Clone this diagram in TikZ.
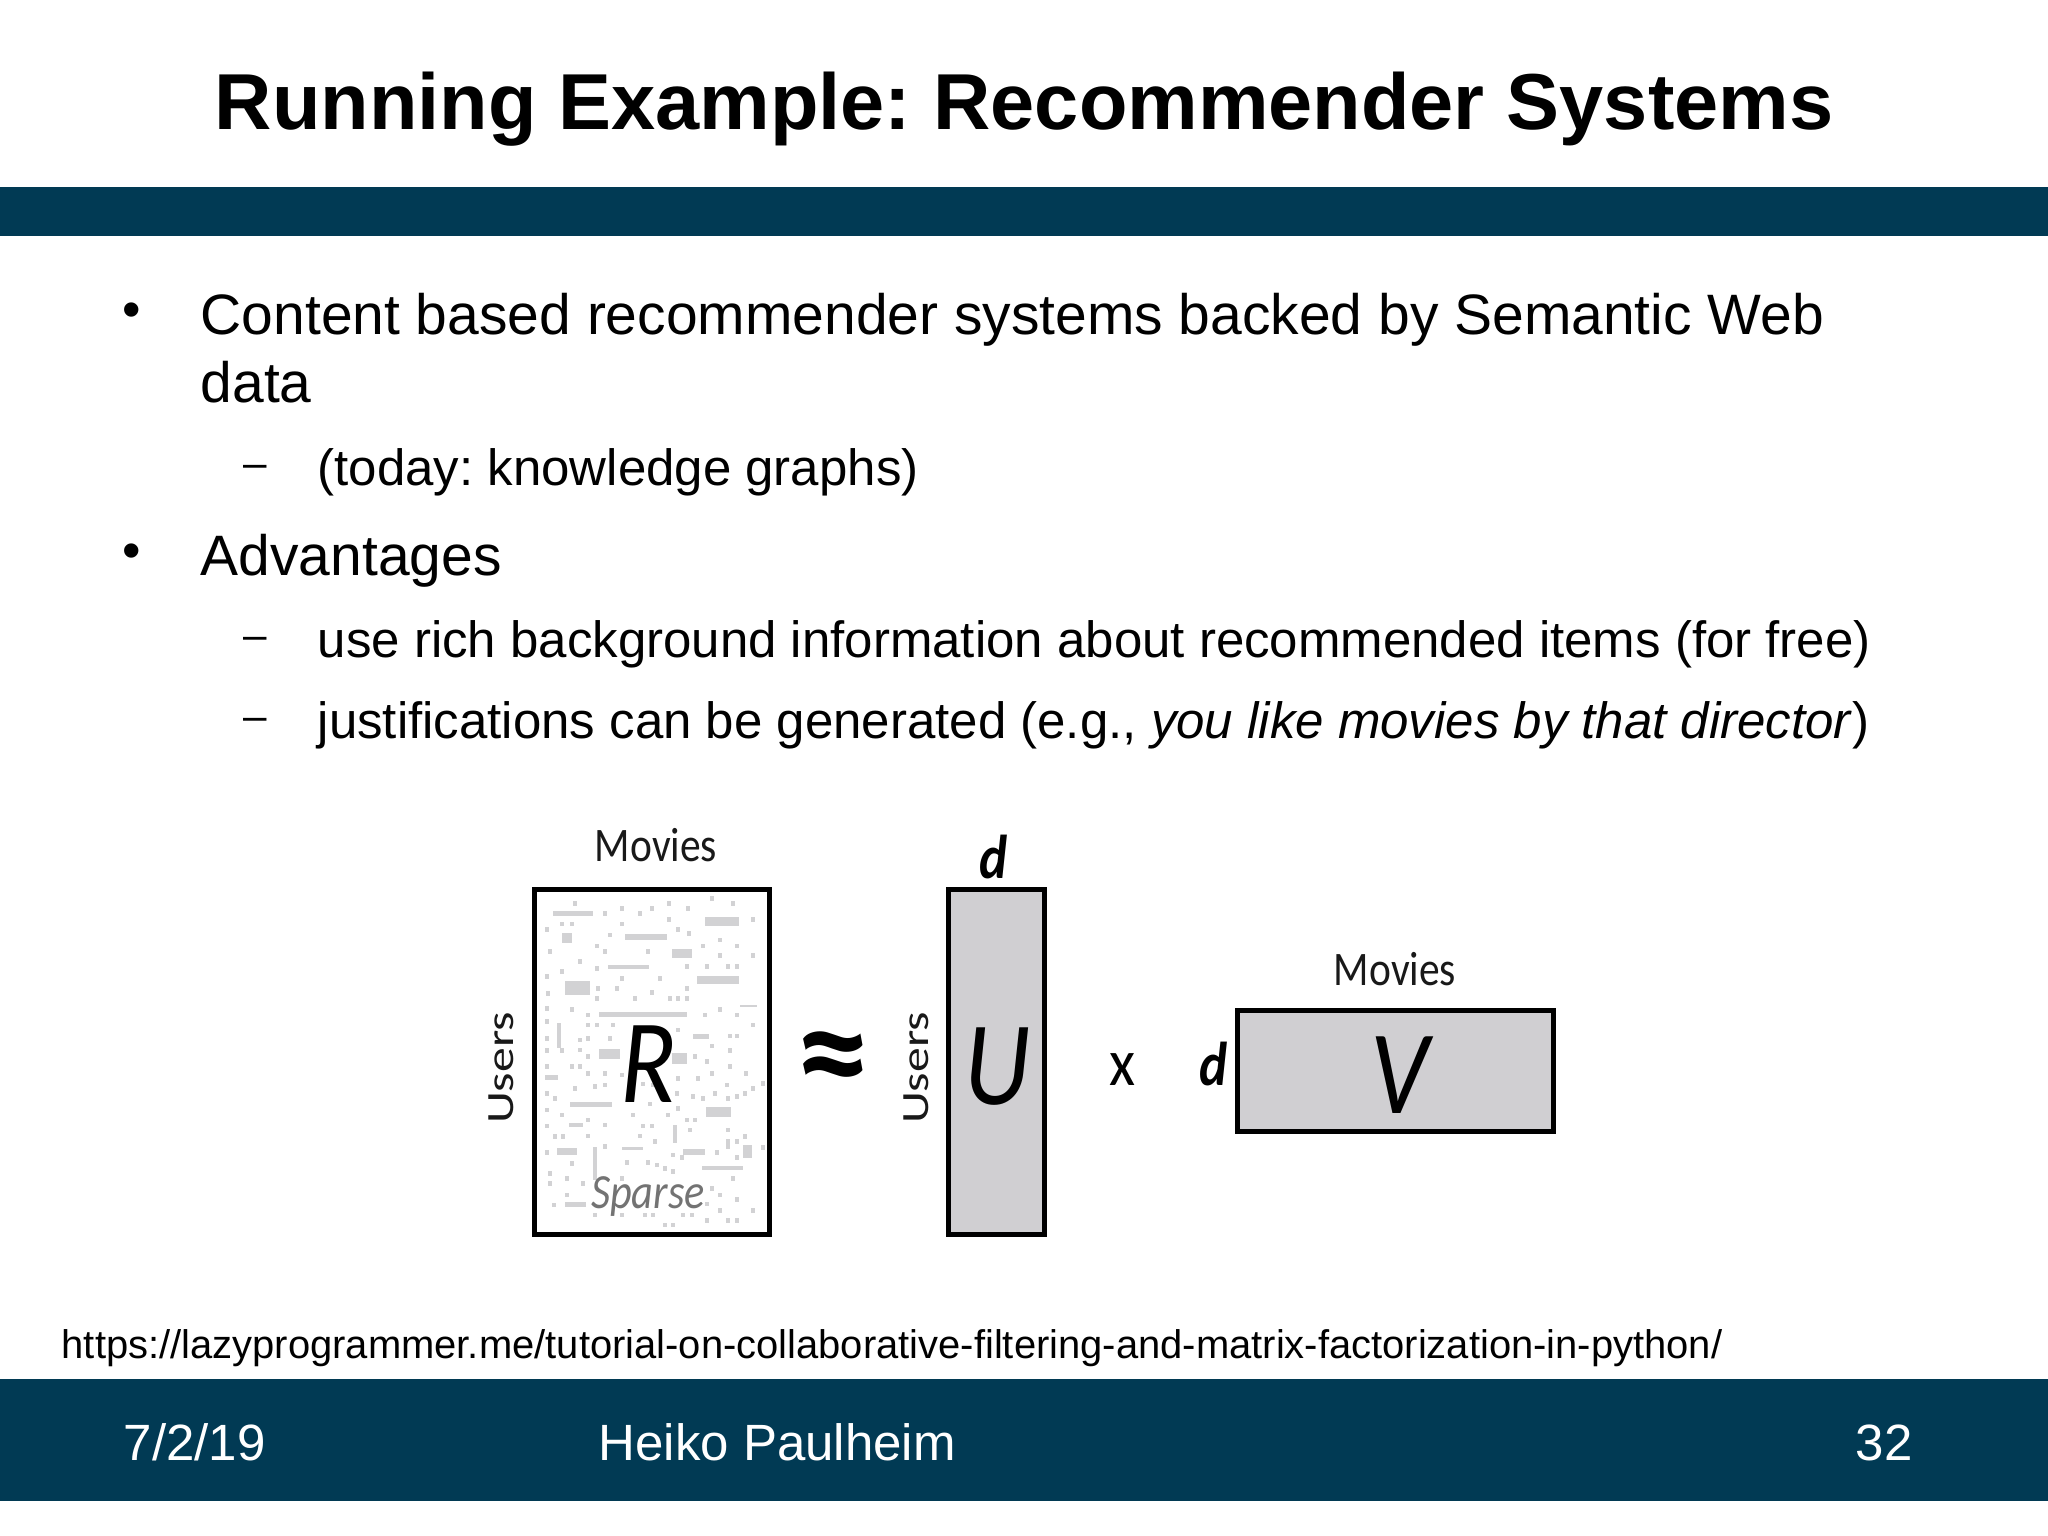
\documentclass[tikz,border=0pt]{standalone}
\usepackage{xcolor}
\usepackage{fontspec}
\usepackage{tikz}
\setmainfont{Liberation Sans}
\newfontfamily\insetfont{Carlito}
\definecolor{slidebar}{HTML}{013A54}
\definecolor{matrixgray}{HTML}{D0CFD2}
\definecolor{sparsegray}{HTML}{D2D2D4}
\newcommand{\squeezed}[1]{\scalebox{.86}[1]{#1}}
\frenchspacing
\tikzset{
    slidetext/.style={anchor=base west,inner sep=0pt},
    titletext/.style={slidetext,font=\fontsize{22.57}{22.57}\selectfont\bfseries},
    itemtext/.style={slidetext,font=\fontsize{16.2}{16.2}\selectfont},
    subtext/.style={slidetext,font=\fontsize{14.5}{14.5}\selectfont},
    bulletmark/.style={anchor=base,inner sep=0pt,font=\fontsize{15}{15}\selectfont},
    dashmark/.style={anchor=base,inner sep=0pt,font=\fontsize{12}{12}\selectfont},
    sourcetext/.style={slidetext,font=\fontsize{11.36}{11.36}\selectfont},
    footertext/.style={slidetext,text=white,font=\fontsize{14.5}{14.5}\selectfont},
    matrixbox/.style={draw=black,line width=5pt*0.2845,inner sep=0pt},
    axislabel/.style={anchor=base,inner sep=0pt,text=black!90,font=\fontsize{13.7}{13.7}\selectfont\insetfont},
    matrixname/.style={anchor=base,inner sep=0pt,font=\fontsize{34}{34}\selectfont\insetfont\itshape},
    dimlabel/.style={anchor=base,inner sep=0pt,font=\fontsize{17.6}{17.6}\selectfont\insetfont\itshape\bfseries},
}
\begin{document}
\begin{tikzpicture}[x=0.01cm,y=-0.01cm]
    \useasboundingbox (0,0) rectangle (2048,1536);
    \fill[white] (0,0) rectangle (2048,1536);
    \fill[slidebar] (0,187) rectangle (2048,236);
    \fill[slidebar] (0,1379) rectangle (2048,1501);

    \node [titletext] (title) at (214,129) {Running Example: Recommender Systems};

    \node [bulletmark] (bulletA) at (132,327) {•};
    \node [itemtext] (itemA) at (200,334) {Content based recommender systems backed by Semantic Web};
    \node [itemtext] (itemAcont) at (200,402) {data};
    \node [dashmark] (dashA) at (255,477) {–};
    \node [subtext] (subA) at (317,485) {(today: knowledge graphs)};
    \node [bulletmark] (bulletB) at (132,568) {•};
    \node [itemtext] (itemB) at (200,575) {Advantages};
    \node [dashmark] (dashB) at (255,649) {–};
    \node [subtext] (subB) at (317,657) {use rich background information about recommended items (for free)};
    \node [dashmark] (dashC) at (255,730) {–};
    \node [subtext] (subC) at (317,738) {justifications can be generated (e.g., \textit{you like movies by that director})};

    % matrices
    \node [matrixbox,fill=white,minimum width=2.35cm,minimum height=3.44cm] (R) at (652,1062) {};
    \node [matrixbox,fill=matrixgray,minimum width=0.96cm,minimum height=3.44cm] (U) at (996.5,1062) {};
    \node [matrixbox,fill=matrixgray,minimum width=3.16cm,minimum height=1.20cm] (V) at (1395.5,1071) {};

    % sparse entries of R
    \begin{scope}[shift={(460,800)},scale=1/3]
        \foreach \xa/\ya/\xb/\yb in {278/333/400/347,735/352/838/378,495/402/620/420,635/447/697/473,
            445/495/568/507,712/527/838/552,315/542/390/585,418/635/680/650,418/747/480/778,
            635/760/682/792,330/905/455/920,738/920/812/952,327/970/370/982,290/1045/352/1065,
            485/1040/548/1050,670/1048/735/1065,725/1097/850/1110,315/1207/378/1222,700/702/748/718,
            850/1035/875/1075,840/615/890/622,400/1040/410/1140,290/670/302/745,305/400/335/430,
            640/975/652/1030,255/825/295/840}
            \fill[sparsegray] (\xa,\ya) rectangle (\xb,\yb);
        \foreach \px/\py in {345/310,485/325,575/325,628/310,685/325,755/295,820/310,435/340,540/340,
            628/358,880/358,260/388,305/372,335/372,487/372,655/388,688/400,450/405,410/438,435/455,
            565/455,730/438,780/420,832/438,270/455,780/467,880/467,360/485,305/515,410/505,680/500,
            740/500,805/500,830/500,260/530,487/535,600/535,415/565,472/565,575/578,680/565,265/580,
            525/595,630/595,655/595,680/595,410/595,260/625,335/628,735/645,780/628,832/645,385/645,
            260/665,385/675,410/675,460/675,880/675,260/715,360/720,385/715,450/715,655/690,810/708,
            832/708,260/752,305/752,360/750,755/738,385/770,705/770,810/752,260/800,335/800,360/800,
            740/785,810/800,385/820,435/820,485/825,655/835,715/835,755/820,858/820,345/865,405/860,
            435/855,550/852,580/855,800/855,880/865,908/850,260/880,285/895,650/880,700/890,730/895,
            765/880,805/895,832/890,855/880,260/930,305/945,570/912,655/925,520/945,625/945,680/960,
            705/960,260/978,385/960,435/975,550/978,575/978,690/990,805/990,285/1010,310/1010,385/1008,
            540/1008,585/1025,805/1025,832/1025,855/1010,260/1057,435/1040,770/1057,805/1040,640/1065,
            665/1072,832/1072,908/1043,335/1090,500/1088,565/1088,590/1095,615/1105,640/1115,270/1120,
            320/1135,820/1135,270/1150,370/1150,485/1135,755/1165,780/1185,320/1185,830/1198,283/1215,
            740/1212,780/1232,880/1232,405/1245,485/1245,555/1245,580/1245,670/1245,695/1245,740/1262,
            805/1262,830/1262,615/1275,640/1275}
            \fill[sparsegray] (\px-6,\py-7) rectangle (\px+6,\py+7);
    \end{scope}

    \node [matrixname] (Rname) at (648,1102) {\squeezed{R}};
    \node [matrixname] (Uname) at (997,1104) {\squeezed{U}};
    \node [matrixname] (Vname) at (1400,1113) {\squeezed{V}};
    \node [axislabel,text=black!55,font=\fontsize{14}{14}\selectfont\insetfont\itshape] (sparse) at (648,1208) {\squeezed{Sparse}};

    \node [axislabel] (moviesR) at (656,861) {\squeezed{Movies}};
    \node [axislabel] (moviesV) at (1395,985) {\squeezed{Movies}};
    \node [axislabel,rotate=90] (usersR) at (513,1068) {\scalebox{1.03}[.8]{Users}};
    \node [axislabel,rotate=90] (usersU) at (928,1068) {\scalebox{1.03}[.8]{Users}};
    \node [dimlabel] (dimU) at (994,878) {\squeezed{d}};
    \node [dimlabel] (dimV) at (1214,1085) {\squeezed{d}};
    \node [anchor=base,inner sep=0pt,font=\fontsize{19}{19}\selectfont\insetfont] (times) at (1123,1085) {\scalebox{.9}[1]{x}};
    \node [anchor=center,inner sep=0pt,font=\fontsize{42}{42}\selectfont\insetfont\bfseries] (approx) at (833,1067) {≈};

    \node [sourcetext] (source) at (61,1358) {https://lazyprogrammer.me/tutorial-on-collaborative-filtering-and-matrix-factorization-in-python/};
    \node [footertext] (date) at (123,1460) {7/2/19};
    \node [footertext] (author) at (598,1460) {Heiko Paulheim};
    \node [footertext] (page) at (1855,1460) {32};
\end{tikzpicture}
\end{document}
